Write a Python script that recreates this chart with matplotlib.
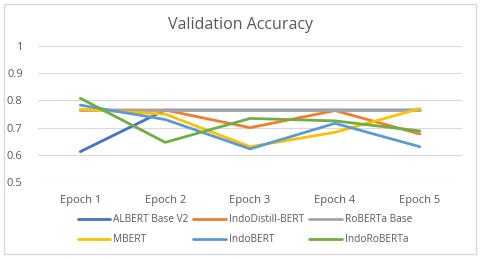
import matplotlib.pyplot as plt

plt.rcParams['font.family'] = ['Open Sans', 'DejaVu Sans']

epochs = ['Epoch 1', 'Epoch 2', 'Epoch 3', 'Epoch 4', 'Epoch 5']
albert = [0.612, 0.765, 0.765, 0.765, 0.765]
indodistill = [0.765, 0.765, 0.700, 0.763, 0.677]
roberta = [0.765, 0.765, 0.765, 0.765, 0.765]
mbert = [0.767, 0.750, 0.630, 0.683, 0.770]
indobert = [0.783, 0.730, 0.622, 0.716, 0.630]
indoroberta = [0.808, 0.646, 0.734, 0.725, 0.688]

series = [
    ('ALBERT Base V2', albert, '#4472C4'),
    ('IndoDistill-BERT', indodistill, '#ED7D31'),
    ('RoBERTa Base', roberta, '#A5A5A5'),
    ('MBERT', mbert, '#FFC000'),
    ('IndoBERT', indobert, '#5B9BD5'),
    ('IndoRoBERTa', indoroberta, '#70AD47'),
]

fig = plt.figure(figsize=(4.8, 2.59), dpi=100)
fig.patches.append(plt.Rectangle((0.008, 0.02), 0.984, 0.965, transform=fig.transFigure,
                                 fill=False, edgecolor='#D9D9D9', lw=1))
ax = fig.add_axes([0.079, 0.297, 0.884, 0.525])

x = list(range(len(epochs)))
lines = []
for name, vals, c in series:
    ln, = ax.plot(x, vals, color=c, lw=2, label=name, solid_capstyle='round')
    lines.append(ln)

ax.set_xlim(-0.5, len(epochs) - 0.5)
ax.set_ylim(0.5, 1.0)
ax.set_yticks([0.5, 0.6, 0.7, 0.8, 0.9, 1.0])
ax.set_yticklabels(['0.5', '0.6', '0.7', '0.8', '0.9', '1'])
ax.set_xticks(x)
ax.set_xticklabels(epochs)
ax.grid(axis='y', color='#D9D9D9', lw=0.8)
ax.set_axisbelow(True)
for s in ax.spines.values():
    s.set_visible(False)
ax.tick_params(length=0, labelsize=8, colors='#595959')
ax.tick_params(axis='y', pad=11)
ax.tick_params(axis='x', pad=9)

fig.text(0.5, 0.905, 'Validation Accuracy', ha='center', va='center',
         fontsize=11.5, color='#595959')

# matplotlib fills legend column-wise; reorder so rows read like the original
order = [0, 3, 1, 4, 2, 5]
fig.legend([lines[i] for i in order], [series[i][0] for i in order],
           loc='center', bbox_to_anchor=(0.51, 0.113), ncol=3, frameon=False,
           fontsize=7.3, handlelength=3.2, handletextpad=0.3, columnspacing=0.5,
           labelcolor='#595959', labelspacing=0.9)

fig.savefig('out.png', dpi=100)
